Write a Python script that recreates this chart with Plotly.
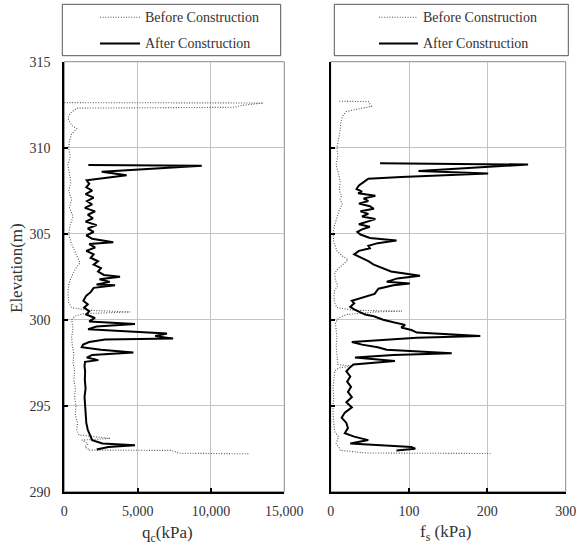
import plotly.graph_objects as go

# ---------------- data ----------------
# Cone tip resistance qc (kPa) - Before construction
qc_before_elev = [312.62, 312.6, 312.45, 312.35, 312.3, 312.0, 311.7, 311.3, 311.1, 310.8, 310.4, 310.0,
                  309.5, 309.0, 308.5, 308.0, 307.5, 307.0, 306.5, 306.0, 305.5, 305.0, 304.5, 304.0,
                  303.6, 303.3, 303.0, 302.7, 302.3, 302.0, 301.5, 301.0, 300.7, 300.55, 300.45, 300.35,
                  300.2, 300.0, 299.5, 299.0, 298.5, 298.0, 297.5, 297.0, 296.5, 296.0, 295.5, 295.0,
                  294.5, 294.0, 293.6, 293.3, 293.1, 293.0, 292.8, 292.6, 292.5, 292.42, 292.4, 292.24, 292.2]
qc_before_val = [0, 13570, 12000, 11600, 850, 400, 250, 500, 850, 500, 350, 300,
                 400, 250, 350, 450, 300, 500, 350, 600, 400, 300, 450, 700,
                 900, 1070, 800, 600, 400, 300, 250, 300, 500, 1600, 4500, 1300,
                 700, 500, 600, 500, 550, 650, 600, 700, 650, 750, 700, 800,
                 750, 900, 850, 1000, 3120, 1200, 1600, 1400, 1620, 1620, 7320, 7800, 12650]

# Cone tip resistance qc (kPa) - After construction
qc_after_elev = [309.0, 308.95, 308.6, 308.4, 308.1, 307.9, 307.7, 307.5, 307.3, 307.1, 306.9, 306.7,
                 306.5, 306.3, 306.1, 305.9, 305.7, 305.5, 305.3, 305.1, 304.9, 304.7, 304.5, 304.4,
                 304.2, 304.0, 303.8, 303.6, 303.4, 303.2, 303.0, 302.8, 302.6, 302.5, 302.35, 302.2,
                 302.05, 302.0, 301.85, 301.6, 301.4, 301.1, 300.9, 300.7, 300.5, 300.3, 300.1, 299.9,
                 299.75, 299.6, 299.45, 299.3, 299.2, 299.05, 298.9, 298.85, 298.7, 298.55, 298.4, 298.25,
                 298.1, 297.95, 297.8, 297.65, 297.55, 297.3, 297.0, 296.5, 296.0, 295.5, 295.0, 294.5,
                 294.0, 293.6, 293.3, 293.0, 292.8, 292.7, 292.6, 292.45]
qc_after_val = [1640, 9370, 2550, 4250, 1530, 1700, 1500, 1900, 1450, 2000, 1550, 1900,
                1400, 2100, 1600, 1950, 1450, 2200, 1600, 2000, 1500, 1900, 3340, 1700,
                2100, 1500, 2000, 1800, 2300, 2000, 2500, 2300, 2700, 3800, 2400, 3100,
                2200, 3460, 2000, 1800, 1500, 1300, 1600, 1350, 1700, 1500, 2090, 1700,
                4820, 2200, 1620, 4500, 7000, 6200, 7420, 2780, 1700, 1280, 1190, 2500,
                4710, 1900, 1530, 2320, 1410, 1380, 1420, 1400, 1450, 1380, 1420, 1450,
                1500, 1600, 1750, 1900, 2600, 4820, 3000, 2210]

# Sleeve friction fs (kPa) - Before construction
fs_before_elev = [312.7, 312.68, 312.55, 312.4, 312.3, 312.1, 311.9, 311.5, 311.0, 310.5, 310.0, 309.5,
                  309.0, 308.5, 308.0, 307.5, 307.2, 307.0, 306.7, 306.4, 306.0, 305.5, 305.0, 304.5,
                  304.0, 303.7, 303.5, 303.3, 303.0, 302.7, 302.3, 302.0, 301.7, 301.3, 301.0, 300.7,
                  300.55, 300.5, 300.45, 300.3, 300.1, 299.8, 299.4, 299.0, 298.5, 298.0, 297.6, 297.4,
                  297.3, 297.2, 297.0, 296.5, 296.0, 295.5, 295.0, 294.5, 294.0, 293.5, 293.2, 293.0,
                  292.8, 292.6, 292.5, 292.4, 292.25, 292.22]
fs_before_val = [11, 48, 50, 52, 40, 20, 16, 13, 12, 10, 8, 9,
                 7, 10, 12, 11, 14, 12, 15, 11, 8, 5, 3, 4,
                 8, 15, 22, 18, 10, 5, 6, 9, 5, 4, 5, 8,
                 30, 91, 57, 20, 10, 6, 7, 8, 7, 8, 9, 9,
                 27, 10, 5, 4, 3, 4, 3, 3, 4, 5, 10, 8,
                 7, 10, 12, 12, 46, 204]

# Sleeve friction fs (kPa) - After construction
fs_after_elev = [309.1, 309.02, 308.65, 308.5, 308.3, 308.2, 308.0, 307.8, 307.6, 307.45, 307.35, 307.2,
                 307.05, 306.9, 306.75, 306.6, 306.45, 306.3, 306.15, 306.0, 305.85, 305.7, 305.55, 305.4,
                 305.25, 305.1, 304.95, 304.75, 304.6, 304.45, 304.3, 304.15, 304.0, 303.8, 303.6, 303.4,
                 303.2, 303.0, 302.8, 302.55, 302.4, 302.2, 302.1, 302.0, 301.8, 301.5, 301.3, 301.1,
                 300.95, 300.75, 300.6, 300.5, 300.3, 300.2, 300.0, 299.85, 299.7, 299.55, 299.4, 299.25,
                 299.05, 298.95, 298.7, 298.55, 298.4, 298.25, 298.05, 297.95, 297.8, 297.6, 297.4, 297.2,
                 297.0, 296.7, 296.4, 296.1, 295.8, 295.5, 295.2, 294.9, 294.6, 294.3, 294.0, 293.7,
                 293.4, 293.2, 293.0, 292.85, 292.8, 292.6, 292.5, 292.4]
fs_after_val = [63, 252, 112, 201, 90, 48, 42, 36, 33, 40, 35, 57,
                42, 48, 36, 50, 55, 38, 48, 40, 57, 45, 36, 50,
                40, 34, 38, 50, 84, 60, 48, 50, 36, 30, 40, 48,
                55, 65, 77, 114, 85, 71.5, 101, 80, 61, 56, 40, 27,
                30, 25, 30, 35, 44, 55, 67, 80, 95, 90, 103, 110,
                191, 110, 27, 40, 60, 71.5, 154.5, 80, 31, 82, 29, 24,
                20, 25, 21, 26, 22, 27, 20, 27, 18, 14, 20, 22,
                18, 30, 48, 30, 25, 103, 108, 84]

qc_ticks = [0, 5000, 10000, 15000]
fs_ticks = [0, 100, 200, 300]
elev_ticks = [290, 295, 300, 305, 310, 315]
legend_names = ["Before Construction", "After Construction"]

# ---------------- figure ----------------
W, H = 576, 552
FONT = "Liberation Serif, Times New Roman, serif"
TXT = "#333333"


def px(x):
    return x / W


def py(y):
    return 1 - y / H


dom_x1 = [px(64.3), px(284.3)]
dom_x2 = [px(330.7), px(565.7)]
dom_y = [py(491.7), py(61.7)]

before_style = dict(color="#555555", width=1.1, dash="1px,1.6px")
after_style = dict(color="black", width=2)

fig = go.Figure()
fig.add_trace(go.Scatter(x=qc_before_val, y=qc_before_elev, mode="lines", line=before_style,
                         name=legend_names[0], showlegend=False, xaxis="x", yaxis="y"))
fig.add_trace(go.Scatter(x=qc_after_val, y=qc_after_elev, mode="lines", line=after_style,
                         name=legend_names[1], showlegend=False, xaxis="x", yaxis="y"))
fig.add_trace(go.Scatter(x=fs_before_val, y=fs_before_elev, mode="lines", line=before_style,
                         name=legend_names[0], showlegend=False, xaxis="x2", yaxis="y2"))
fig.add_trace(go.Scatter(x=fs_after_val, y=fs_after_elev, mode="lines", line=after_style,
                         name=legend_names[1], showlegend=False, xaxis="x2", yaxis="y2"))

axis_common = dict(showgrid=True, gridcolor="#c4c4c4", gridwidth=1, zeroline=False,
                   showline=True, linecolor="black", linewidth=2,
                   ticks="inside", ticklen=4, tickwidth=2, tickcolor="black",
                   automargin=False, ticklabeloverflow="allow",
                   tickfont=dict(family=FONT, size=14, color=TXT))

fig.update_layout(
    width=W, height=H, autosize=False,
    margin=dict(l=0, r=0, t=0, b=0, pad=0, autoexpand=False),
    paper_bgcolor="white", plot_bgcolor="white",
    showlegend=False,
    xaxis=dict(domain=dom_x1, range=[0, 15000], tickvals=qc_ticks, tickformat=",",
               anchor="y", ticklabelstandoff=5, **axis_common),
    yaxis=dict(domain=dom_y, range=[290, 315], tickvals=elev_ticks, anchor="x",
               ticklabelstandoff=9, **axis_common),
    xaxis2=dict(domain=dom_x2, range=[0, 300], tickvals=fs_ticks, anchor="y2",
                ticklabelstandoff=5, **axis_common),
    yaxis2=dict(domain=dom_y, range=[290, 315], tickvals=elev_ticks, anchor="x2",
                showticklabels=False, **axis_common),
)

shapes = []
# gray frames (top/right edges)
for xr, yr in [("x domain", "y domain"), ("x2 domain", "y2 domain")]:
    shapes.append(dict(type="rect", xref=xr, yref=yr, x0=0, x1=1, y0=0, y1=1,
                       line=dict(color="#8a8a8a", width=1), layer="below"))

annotations = []
# legend boxes
legend_boxes = [
    dict(x0=62.3, x1=280.7, y0=4.3, y1=55.7, lx0=100, lx1=140, tx=143),
    dict(x0=334.3, x1=568.3, y0=4.3, y1=55.7, lx0=379, lx1=418, tx=421),
]
for b in legend_boxes:
    shapes.append(dict(type="rect", xref="paper", yref="paper",
                       x0=px(b["x0"]), x1=px(b["x1"]), y0=py(b["y1"]), y1=py(b["y0"]),
                       line=dict(color="#555555", width=1)))
    for i, (yy, st) in enumerate([(17.3, before_style), (43.5, after_style)]):
        shapes.append(dict(type="line", xref="paper", yref="paper",
                           x0=px(b["lx0"]), x1=px(b["lx1"]), y0=py(yy), y1=py(yy),
                           line=st))
        annotations.append(dict(text=legend_names[i], xref="paper", yref="paper",
                                x=px(b["tx"]), y=py(yy), xanchor="left", yanchor="middle",
                                showarrow=False, font=dict(family=FONT, size=14, color=TXT)))

# axis titles
annotations.append(dict(text="q<sub>c</sub>(kPa)", xref="paper", yref="paper",
                        x=px(167), y=py(534), xanchor="center", yanchor="middle",
                        showarrow=False, font=dict(family=FONT, size=17, color=TXT)))
annotations.append(dict(text="f<sub>s</sub> (kPa)", xref="paper", yref="paper",
                        x=px(445), y=py(533), xanchor="center", yanchor="middle",
                        showarrow=False, font=dict(family=FONT, size=17, color=TXT)))
annotations.append(dict(text="Elevation(m)", xref="paper", yref="paper",
                        x=px(17), y=py(268), xanchor="center", yanchor="middle", textangle=-90,
                        showarrow=False, font=dict(family=FONT, size=17, color=TXT)))

fig.update_layout(shapes=shapes, annotations=annotations)

fig.write_html(
    "out.html",
    config={"displayModeBar": False, "responsive": False},
    post_script=("var d=document.documentElement,b=document.body;"
                 "d.style.margin='0';d.style.padding='0';d.style.overflow='hidden';"
                 "b.style.margin='0';b.style.padding='0';b.style.overflow='hidden';"),
)
